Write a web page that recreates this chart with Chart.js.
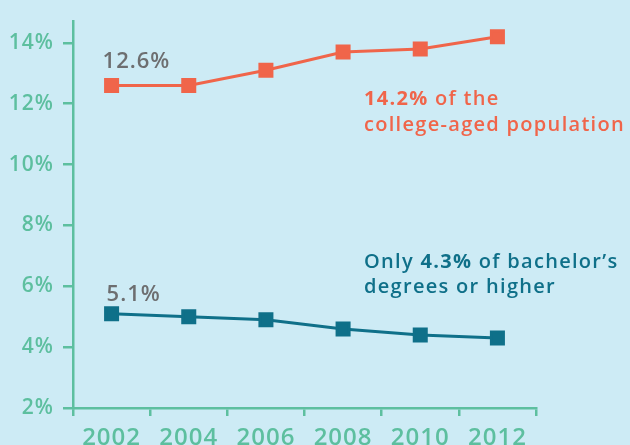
<!DOCTYPE html>
<html>
<head>
<meta charset="utf-8">
<script src="https://cdn.jsdelivr.net/npm/chart.js@4/dist/chart.umd.min.js"></script>
<style>
  html, body { margin: 0; padding: 0; background: #cdebf5; }
  #wrap { width: 630px; height: 445px; }
</style>
</head>
<body>
<div id="wrap"><canvas id="chart"></canvas></div>
<script>
const years = ['2002', '2004', '2006', '2008', '2010', '2012'];
const collegeAged = [12.6, 12.6, 13.1, 13.7, 13.8, 14.2];
const bachelors = [5.1, 5.0, 4.9, 4.6, 4.4, 4.3];
const yTicks = [2, 4, 6, 8, 10, 12, 14];

const axisColor = '#5dbf9f';
const orange = '#f0654a';
const teal = '#0f7089';
const grey = '#6d6e70';
const fontFamily = '"Open Sans", sans-serif';

// wider letters, the original uses a geometric font
const spacingPlugin = {
  id: 'spacing',
  beforeDraw(chart) { chart.ctx.letterSpacing = '1px'; }
};

// first-point labels and the two side notes
const notesPlugin = {
  id: 'notes',
  afterDatasetsDraw(chart) {
    const ctx = chart.ctx;
    ctx.save();
    ctx.textBaseline = 'alphabetic';
    ctx.textAlign = 'left';

    ctx.fillStyle = grey;
    ctx.letterSpacing = '1px';
    ctx.font = '600 22px ' + fontFamily;
    const p0 = chart.getDatasetMeta(0).data[0];
    ctx.fillText(collegeAged[0].toFixed(1) + '%', p0.x - 9, p0.y - 17);
    const p1 = chart.getDatasetMeta(1).data[0];
    ctx.fillText(bachelors[0].toFixed(1) + '%', p1.x - 5, p1.y - 13);

    ctx.letterSpacing = '1.3px';
    function line(parts, x, y, color) {
      ctx.fillStyle = color;
      parts.forEach(([text, bold]) => {
        ctx.font = (bold ? '700 ' : '600 ') + '20px ' + fontFamily;
        ctx.fillText(text, x, y);
        x += ctx.measureText(text).width;
      });
    }
    const last = collegeAged.length - 1;
    line([[collegeAged[last].toFixed(1) + '%', true], [' of the', false]], 364, 105, orange);
    line([['college-aged population', false]], 364, 131, orange);
    line([['Only ', false], [bachelors[last].toFixed(1) + '%', true], [' of bachelor\u2019s', false]], 364, 268, teal);
    line([['degrees or higher', false]], 364, 293, teal);
    ctx.restore();
  }
};

new Chart(document.getElementById('chart'), {
  type: 'line',
  data: {
    labels: years,
    datasets: [
      {
        data: collegeAged,
        borderColor: orange,
        backgroundColor: orange,
        borderWidth: 3,
        pointStyle: 'rect',
        pointRadius: 8.5,
        pointHoverRadius: 8.5,
        tension: 0
      },
      {
        data: bachelors,
        borderColor: teal,
        backgroundColor: teal,
        borderWidth: 3,
        pointStyle: 'rect',
        pointRadius: 8.5,
        pointHoverRadius: 8.5,
        tension: 0
      }
    ]
  },
  options: {
    responsive: true,
    maintainAspectRatio: false,
    animation: false,
    layout: { padding: { top: 20, right: 94, left: 0, bottom: 0 } },
    plugins: { legend: { display: false }, tooltip: { enabled: false } },
    scales: {
      x: {
        offset: true,
        grid: { offset: true, drawOnChartArea: false, tickLength: 8, color: axisColor, lineWidth: 2.5 },
        border: { color: axisColor, width: 2.5 },
        ticks: { color: axisColor, font: { family: fontFamily, size: 24, weight: 600 }, padding: 8, maxRotation: 0 },
        afterFit(scale) { scale.height = 37; }
      },
      y: {
        min: 2,
        max: 14.7,
        afterBuildTicks(scale) { scale.ticks = yTicks.map(v => ({ value: v })); },
        grid: { drawOnChartArea: false, tickLength: 10, color: axisColor, lineWidth: 2.5 },
        border: { color: axisColor, width: 2.5 },
        ticks: {
          color: axisColor,
          font: { family: fontFamily, size: 21, weight: 600 },
          padding: 9,
          callback: v => v + '%'
        },
        afterFit(scale) { scale.width = 73; }
      }
    }
  },
  plugins: [spacingPlugin, notesPlugin]
});
</script>
</body>
</html>
